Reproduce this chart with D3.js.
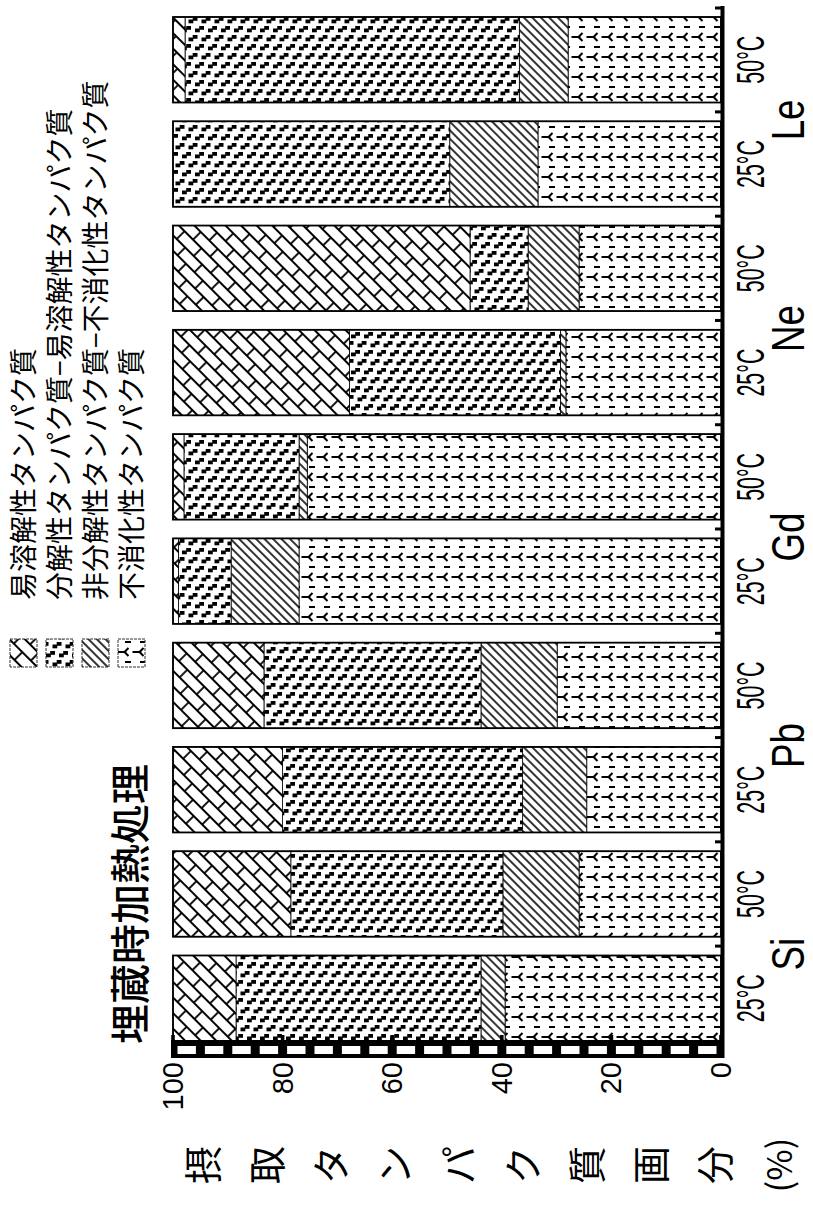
<!DOCTYPE html>
<html>
<head>
<meta charset="utf-8">
<script src="https://cdn.jsdelivr.net/npm/d3@7"></script>
<style>
  body { margin: 0; background: #fff; }
  svg { display: block; }
</style>
</head>
<body>
<script>
// data (percent of ingested protein), bars ordered Si 25, Si 50, Pb 25, ... Le 50
var groups = ["Si", "Pb", "Gd", "Ne", "Le"];
var temps = ["25°C", "50°C"];
var indigestible  = [39.4, 25.9, 24.5, 29.9, 77.0, 75.5, 28.3, 25.9, 33.4, 27.9]; // 不消化性
var nonDegradable = [ 4.4, 13.9, 11.7, 13.9, 12.4,  1.5,  1.0,  9.3, 16.1,  8.9]; // 非分解性−不消化性
var degradable    = [44.7, 38.7, 43.8, 39.6,  9.6, 21.0, 38.5, 10.6, 50.5, 61.0]; // 分解性−易溶解性
var soluble       = [11.5, 21.5, 20.0, 16.6,  1.0,  2.0, 32.2, 54.2,  0.0,  2.2]; // 易溶解性
var yTicks = [0, 20, 40, 60, 80, 100];
var legendNames = ["易溶解性タンパク質", "分解性タンパク質−易溶解性タンパク質",
                   "非分解性タンパク質−不消化性タンパク質", "不消化性タンパク質"];
var title = "埋蔵時加熱処理";
var axisTitle = ["摂", "取", "タ", "ン", "パ", "ク", "質", "画", "分"];

window.onload = function(){
    var W = 813, H = 1212;      // page size; the chart is drawn landscape and turned
    var cjk = "'Noto Sans CJK JP', sans-serif";
    var latin = "'Liberation Sans', Arial, sans-serif";

    var cats = [];
    groups.forEach(function(gr){ temps.forEach(function(t){ cats.push(gr + " " + t); }); });

    var rows = cats.map(function(c, i){
        return {cat: c, ind: indigestible[i], non: nonDegradable[i], deg: degradable[i], sol: soluble[i]};
    });
    var keys = ["ind", "non", "deg", "sol"];
    var fills = {ind: "url(#pY)", non: "url(#pHatch)", deg: "url(#pDark)", sol: "url(#pBrick)"};

    var svg = d3.select("body").append("svg")
        .attr("width", W)
        .attr("height", H);

    // patterns, drawn as they look on the page (rotate(90) undoes the chart turn)
    var defs = svg.append("defs");

    var brick = defs.append("pattern").attr("id", "pBrick")
        .attr("patternUnits", "userSpaceOnUse")
        .attr("width", 24).attr("height", 22)
        .attr("patternTransform", "rotate(90) rotate(45)");
    brick.append("rect").attr("width", 24).attr("height", 22).attr("fill", "#fff");
    brick.append("path")
        .attr("d", "M0,1H24M0,12H24M1,1V12M13,12V22M13,0V1")
        .attr("stroke", "#000").attr("stroke-width", 1.8).attr("fill", "none");

    var hatch = defs.append("pattern").attr("id", "pHatch")
        .attr("patternUnits", "userSpaceOnUse")
        .attr("width", 6).attr("height", 6)
        .attr("patternTransform", "rotate(90) rotate(45)");
    hatch.append("rect").attr("width", 6).attr("height", 6).attr("fill", "#fff");
    hatch.append("path").attr("d", "M0,3H6")
        .attr("stroke", "#000").attr("stroke-width", 1.6);

    var dark = defs.append("pattern").attr("id", "pDark")
        .attr("patternUnits", "userSpaceOnUse")
        .attr("width", 13).attr("height", 18)
        .attr("patternTransform", "rotate(90)");
    dark.append("rect").attr("width", 13).attr("height", 18).attr("fill", "#fff");
    [[0, 4.5], [4.2, 2], [6.5, 13.5], [10.7, 11], [-2.3, 11]].forEach(function(p){
        dark.append("rect").attr("x", p[0]).attr("y", p[1])
            .attr("width", 4.8).attr("height", 3.8).attr("fill", "#000");
    });

    var yPat = defs.append("pattern").attr("id", "pY")
        .attr("patternUnits", "userSpaceOnUse")
        .attr("width", 15).attr("height", 20)
        .attr("patternTransform", "rotate(90)");
    yPat.append("rect").attr("width", 15).attr("height", 20).attr("fill", "#fff");
    [[1.5, 1], [9, 11]].forEach(function(o){
        var ox = o[0], oy = o[1];
        yPat.append("path")
            .attr("d", "M" + ox + "," + (oy + 4) + "h7" +
                       "M" + (ox + 7) + "," + (oy + 4) + "l4,-4" +
                       "M" + (ox + 7) + "," + (oy + 4) + "l4,4" +
                       "M" + (ox + 7) + "," + (oy + 4) + "h2")
            .attr("stroke", "#000").attr("stroke-width", 2).attr("fill", "none");
    });

    // landscape chart group: u runs to the right, v runs down, then turned 90° anticlockwise
    var g = svg.append("g").attr("transform", "translate(0," + H + ") rotate(-90)");

    var x = d3.scaleBand()
        .domain(cats)
        .range([171, 1195])
        .paddingInner(0.18)
        .paddingOuter(0);

    var y = d3.scaleLinear()
        .domain([0, 100])
        .range([721, 173]);

    var stack = d3.stack().keys(keys)(rows);

    // bar segments
    g.selectAll(".layer")
        .data(stack)
        .enter()
        .append("g")
        .attr("class", "layer")
        .attr("fill", function(d){ return fills[d.key]; })
        .selectAll("rect")
        .data(function(d){ return d; })
        .enter()
        .append("rect")
        .attr("x", function(d){ return x(d.data.cat); })
        .attr("width", x.bandwidth())
        .attr("y", function(d){ return y(d[1]); })
        .attr("height", function(d){ return y(d[0]) - y(d[1]); })
        .attr("stroke", "#000")
        .attr("stroke-width", 0.8);

    // bar outlines
    g.selectAll(".outline")
        .data(rows)
        .enter()
        .append("rect")
        .attr("class", "outline")
        .attr("x", function(d){ return x(d.cat); })
        .attr("width", x.bandwidth())
        .attr("y", y(100))
        .attr("height", y(0) - y(100))
        .attr("fill", "none")
        .attr("stroke", "#000")
        .attr("stroke-width", 1.8);

    // category axis (baseline) with ticks between bars
    var gap = x.step() - x.bandwidth();
    g.append("line")
        .attr("x1", 154).attr("x2", 1206)
        .attr("y1", y(0) + 1.5).attr("y2", y(0) + 1.5)
        .attr("stroke", "#000").attr("stroke-width", 4);
    var tickPos = cats.slice(1).map(function(c){ return x(c) - gap / 2; });
    tickPos.push(1204);
    g.selectAll(".ctick")
        .data(tickPos)
        .enter()
        .append("rect")
        .attr("class", "ctick")
        .attr("x", function(d){ return d - 1.5; })
        .attr("width", 3)
        .attr("y", y(0) - 6)
        .attr("height", 7)
        .attr("fill", "#000");

    // value axis drawn as a ruler band
    var band = g.append("g");
    band.append("rect")
        .attr("x", 154).attr("width", 18)
        .attr("y", y(100) - 2).attr("height", y(0) - y(100) + 4)
        .attr("fill", "#000");
    band.selectAll(".dash")
        .data(d3.range(20))
        .enter()
        .append("rect")
        .attr("class", "dash")
        .attr("x", 158).attr("width", 8)
        .attr("y", function(i){ return y((i + 1) * 5) + 4.5; })
        .attr("height", function(i){ return y(i * 5) - y((i + 1) * 5) - 9; })
        .attr("fill", "#fff");
    band.selectAll(".major")
        .data(yTicks)
        .enter()
        .append("rect")
        .attr("class", "major")
        .attr("x", 171).attr("width", 6)
        .attr("y", function(d){ return y(d) - 1.8; })
        .attr("height", 3.6)
        .attr("fill", "#000");

    g.selectAll(".ylab")
        .data(yTicks)
        .enter()
        .append("text")
        .attr("class", "ylab")
        .attr("x", 150)
        .attr("y", function(d){ return y(d); })
        .attr("text-anchor", "end")
        .attr("dominant-baseline", "central")
        .style("font-family", latin)
        .style("font-size", "29px")
        .text(function(d){ return d; });

    // axis title, stacked vertical in the landscape chart
    var ax = d3.scaleLinear().domain([0, axisTitle.length - 1]).range([200, 712]);
    g.selectAll(".atitle")
        .data(axisTitle)
        .enter()
        .append("text")
        .attr("class", "atitle")
        .attr("x", 47)
        .attr("y", function(d, i){ return ax(i); })
        .attr("text-anchor", "middle")
        .attr("dominant-baseline", "central")
        .style("font-family", cjk)
        .style("font-size", "38px")
        .text(function(d){ return d; });
    g.append("text")
        .attr("x", 47).attr("y", 777)
        .attr("text-anchor", "middle")
        .attr("dominant-baseline", "central")
        .style("font-family", cjk)
        .style("font-size", "34px")
        .text("(%)");

    // bar labels
    g.selectAll(".tlab")
        .data(cats)
        .enter()
        .append("text")
        .attr("class", "tlab")
        .attr("x", function(d){ return x(d) + x.bandwidth() / 2; })
        .attr("y", 751)
        .attr("text-anchor", "middle")
        .attr("dominant-baseline", "central")
        .attr("textLength", 48)
        .attr("lengthAdjust", "spacingAndGlyphs")
        .style("font-family", latin)
        .style("font-size", "38px")
        .text(function(d){ return d.split(" ")[1]; });

    g.selectAll(".glab")
        .data(groups)
        .enter()
        .append("text")
        .attr("class", "glab")
        .attr("x", function(d){ return (x(d + " " + temps[0]) + x(d + " " + temps[1]) + x.bandwidth()) / 2 - 8; })
        .attr("y", 788)
        .attr("text-anchor", "middle")
        .attr("dominant-baseline", "central")
        .attr("lengthAdjust", "spacingAndGlyphs")
        .style("font-family", latin)
        .style("font-size", "46px")
        .text(function(d){ return d; })
        .attr("textLength", function(){ return this.getComputedTextLength() * 0.8; });

    // title
    g.append("text")
        .attr("x", 168).attr("y", 145)
        .style("font-family", cjk)
        .style("font-size", "40px")
        .style("font-weight", 500)
        .text(title);

    // legend
    var legendFills = ["url(#pBrick)", "url(#pDark)", "url(#pHatch)", "url(#pY)"];
    var legend = g.selectAll(".legend")
        .data(legendNames)
        .enter()
        .append("g")
        .attr("class", "legend")
        .attr("transform", function(d, i){ return "translate(545," + (23 + i * 36) + ")"; });
    legend.append("rect")
        .attr("x", 0).attr("y", -13)
        .attr("width", 28).attr("height", 27)
        .attr("fill", function(d, i){ return legendFills[i]; })
        .attr("stroke", "#333")
        .attr("stroke-width", 1)
        .attr("stroke-dasharray", "3,1");
    legend.append("text")
        .attr("x", 67).attr("y", 11)
        .style("font-family", cjk)
        .style("font-size", "28px")
        .text(function(d){ return d; });
};
</script>
</body>
</html>
